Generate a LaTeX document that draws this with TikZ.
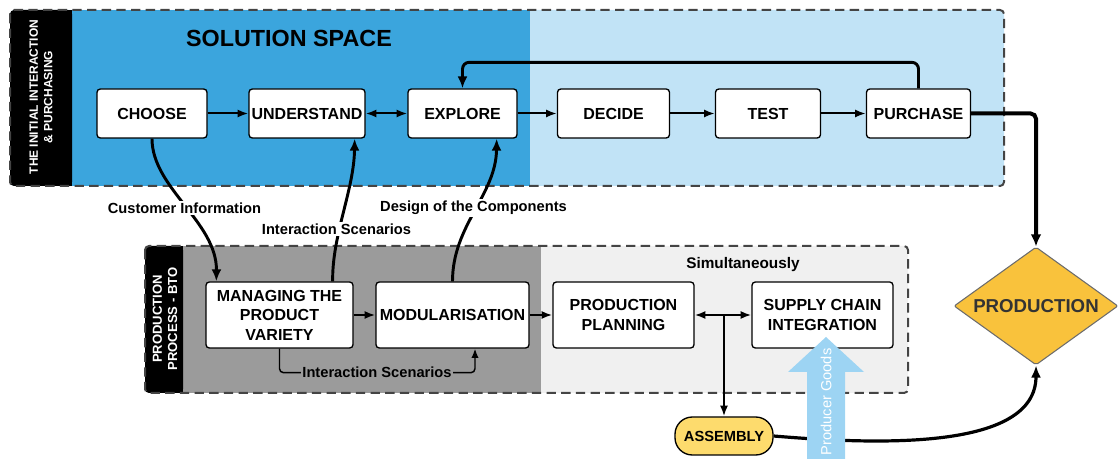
\documentclass[tikz,border=0pt]{standalone}
\usepackage{fontspec}
\setmainfont{Liberation Sans}
\usetikzlibrary{arrows.meta,shapes.geometric,calc}
\definecolor{dblue}{HTML}{3BA5DD}
\definecolor{lblue}{HTML}{C1E3F6}
\definecolor{dgray}{HTML}{9B9B9B}
\definecolor{lgray}{HTML}{F0F0F0}
\definecolor{framecol}{HTML}{444444}
\definecolor{prodyellow}{HTML}{F9C23C}
\definecolor{asmyellow}{HTML}{FDDB6D}
\definecolor{pgblue}{HTML}{9DD4F3}
\definecolor{prodtext}{HTML}{333333}
\begin{document}
\begin{tikzpicture}[x=0.75pt,y=-0.75pt,
  wd/.style={minimum width=#1*0.75pt},
  ht/.style={minimum height=#1*0.75pt},
  box/.style={draw=black, line width=1pt, rounded corners=2.5pt, fill=white,
    font=\bfseries\fontsize{12}{14.6}\selectfont, align=center, inner sep=0pt},
  dashframe/.style={draw=framecol, line width=1.5pt, dash pattern=on 7pt off 4pt, rounded corners=3pt},
  striplabel/.style={rotate=90, text=white, align=center},
  conlabel/.style={font=\bfseries\fontsize{11}{13}\selectfont, inner sep=1.5pt},
  arr/.style={line width=1.5pt, -{Latex[length=8pt,width=6pt]}},
  darr/.style={line width=1.5pt, {Latex[length=8pt,width=6pt]}-{Latex[length=8pt,width=6pt]}},
  curvearr/.style={line width=2.2pt, -{Latex[length=9pt,width=7.5pt]}}
]
\useasboundingbox (0,0) rectangle (1118,459);

% ---------- top frame ----------
\fill[lblue, rounded corners=3pt] (10,10) rectangle (1004,186);
\fill[dblue] (72,10) rectangle (530,186);
\fill[black, rounded corners=3pt] (10,10) rectangle (72,186);
\fill[black] (60,10) rectangle (72,186);
\draw[dashframe] (10,10) rectangle (1004,186);
\node[striplabel, font=\bfseries\fontsize{9}{11}\selectfont] (toplabel) at (41,97) {THE INITIAL INTERACTION\\\& PURCHASING};
\node[font=\bfseries\fontsize{17.5}{20}\selectfont] (solspace) at (289,38) {SOLUTION SPACE};

% ---------- bottom frame ----------
\fill[lgray, rounded corners=3pt] (145,246) rectangle (908,393);
\fill[dgray] (183,246) rectangle (541,393);
\fill[black, rounded corners=3pt] (145,246) rectangle (183,393);
\fill[black] (175,246) rectangle (183,393);
\draw[dashframe] (145,246) rectangle (908,393);
\node[striplabel, font=\bfseries\fontsize{9.8}{11.5}\selectfont] (botlabel) at (165,319) {PRODUCTION\\PROCESS - BTO};
\node[font=\bfseries\fontsize{11.5}{13}\selectfont] (simul) at (743,265) {Simultaneously};

% ---------- top row ----------
\node[box,wd=110,ht=49] (choose) at (152,113.5) {CHOOSE};
\node[box,wd=116,ht=49] (understand) at (307,113.5) {UNDERSTAND};
\node[box,wd=109,ht=49] (explore) at (462.5,113.5) {EXPLORE};
\node[box,wd=112,ht=49] (decide) at (613.5,113.5) {DECIDE};
\node[box,wd=105,ht=49] (test) at (768,113.5) {TEST};
\node[box,wd=104,ht=49] (purchase) at (918.5,113.5) {PURCHASE};

% ---------- bottom row ----------
\node[box,wd=147,ht=66] (managing) at (279.5,315) {MANAGING THE\\PRODUCT\\VARIETY};
\node[box,wd=153,ht=66] (modular) at (452.5,315) {MODULARISATION};
\node[box,wd=141,ht=66] (planning) at (623.5,315) {PRODUCTION\\PLANNING};
\node[box,wd=141,ht=66] (supply) at (822.5,315) {SUPPLY CHAIN\\INTEGRATION};

% ---------- production & assembly ----------
\node[diamond, aspect=1.39, wd=164, ht=118, inner sep=0pt, fill=prodyellow,
  draw=gray!85!black, line width=0.8pt, rounded corners=1.5pt,
  text=prodtext, font=\bfseries\fontsize{14}{16}\selectfont] (prod) at (1036,306) {PRODUCTION};
\node[draw=black, line width=1pt, fill=asmyellow, rounded corners=13pt, wd=98, ht=38,
  inner sep=0pt, font=\bfseries\fontsize{11}{13}\selectfont] (assembly) at (724,436) {ASSEMBLY};

% ---------- top row connectors ----------
\draw[arr] (choose.east) -- (understand.west);
\draw[darr] (understand.east) -- (explore.west);
\draw[arr] (explore.east) -- (decide.west);
\draw[arr] (decide.east) -- (test.west);
\draw[arr] (test.east) -- (purchase.west);
\draw[line width=2.2pt, rounded corners=5pt, -{Latex[length=9pt,width=7.5pt]}]
  (purchase.north) -- ++(0,-26) -| (explore.north);
\draw[line width=3pt, rounded corners=4pt, -{Latex[length=9pt,width=8pt]}]
  (purchase.east) -| (prod.north);

% ---------- cross connectors ----------
\draw[curvearr] (choose.south) .. controls (152,188) and (217,222) .. ($(managing.north west)+(11,0)$);
\draw[curvearr] ($(managing.north east)+(-21,0)$) .. controls (332,235) and (354,190) .. ($(understand.south east)+(-11,0)$);
\draw[curvearr] (modular.north) .. controls (452.5,225) and (496,195) .. ($(explore.south east)+(-21,0)$);
\node[conlabel, fill=white] (custinfo) at (184.5,208) {Customer Information};
\node[conlabel, fill=white] (interscen) at (336.5,229) {Interaction Scenarios};
\node[conlabel, fill=white] (design) at (473.5,208) {Design of the Components};

% ---------- bottom row connectors ----------
\draw[arr] (managing.east) -- (modular.west);
\draw[arr] (modular.east) -- (planning.west);
\draw[darr] (planning.east) -- (supply.west);
\coordinate (junc) at (planning.east -| assembly.north);
\draw[arr] (junc) -- (assembly.north);
\draw[line width=1.1pt, rounded corners=3pt, -{Latex[length=7pt,width=5.5pt]}]
  (managing.south) -- ++(0,24) -| ($(modular.south)+(22.5,0)$);
\node[conlabel, fill=dgray, inner sep=1pt] (interscen2) at (377,372) {Interaction Scenarios};

% ---------- assembly to production ----------
\draw[line width=2.4pt, -{Latex[length=9pt,width=7.5pt]}]
  (assembly.east) .. controls (880,445) and (1036,450) .. (prod.south);

% ---------- producer goods arrow ----------
\fill[pgblue] (807,459) -- (807,372) -- (788,372) -- (826,337) -- (864,372) -- (845,372) -- (845,459) -- cycle;
\node[rotate=90, text=white, font=\fontsize{11}{12}\selectfont] (pgoods) at (826,402) {Producer Goods};
\end{tikzpicture}
\end{document}
